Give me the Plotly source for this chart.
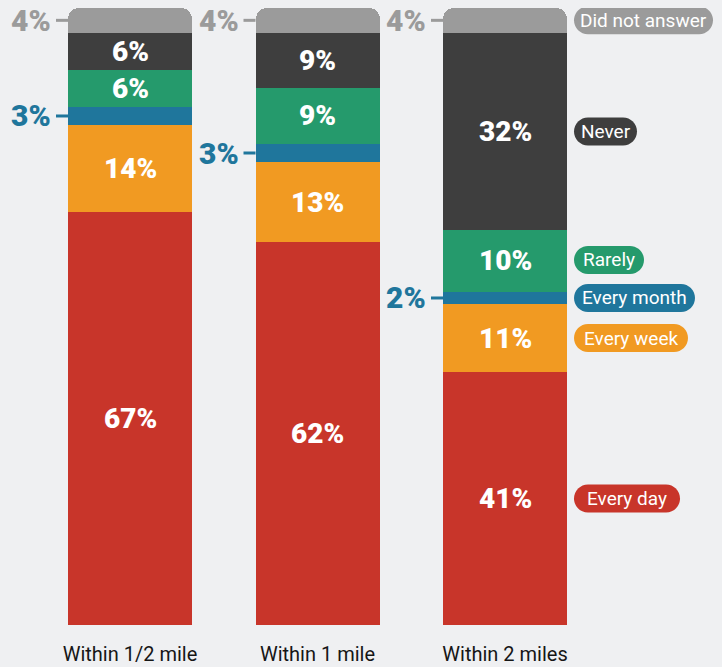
import plotly.graph_objects as go

# ---------------- data ----------------
categories = ["Within 1/2 mile", "Within 1 mile", "Within 2 miles"]
series_names = ["Every day", "Every week", "Every month", "Rarely", "Never", "Did not answer"]
every_day = [67, 62, 41]
every_week = [14, 13, 11]
every_month = [3, 3, 2]
rarely = [6, 9, 10]
never = [6, 9, 32]
did_not_answer = [4, 4, 4]

# ---------------- styles ----------------
series_values = [every_day, every_week, every_month, rarely, never, did_not_answer]
colors = ["#c8352a", "#f19a22", "#1f769c", "#259a6c", "#3e3e3e", "#9b9b9b"]
pill_widths_px = [106, 114, 121, 70, 63, 139]
BG = "#eff0f2"

W, H = 722, 667
M_T, M_B = 8, 42
X0_PX = 130.0          # pixel position of first category centre
PX_PER_X = 187.5       # pixels per category step
X_RANGE = [-X0_PX / PX_PER_X, (W - X0_PX) / PX_PER_X]
PX_PER_Y = (H - M_T - M_B) / 100.0
BAR_W = 124 / PX_PER_X

xs = list(range(len(categories)))

fig = go.Figure()
for name, vals, col in zip(series_names, series_values, colors):
    fig.add_trace(go.Bar(
        x=xs, y=vals, name=name, marker=dict(color=col, line=dict(width=0)),
        width=BAR_W, showlegend=False, hoverinfo="skip",
    ))

annotations = []
shapes = []

# value labels
for i, x in enumerate(xs):
    base = 0
    for vals, col in zip(series_values, colors):
        v = vals[i]
        mid = base + v / 2
        if v >= 5:
            annotations.append(dict(
                x=x, y=mid, xref="x", yref="y", text=f"{v}%", showarrow=False,
                font=dict(family="Roboto", size=28, color="white", weight=900),
                xanchor="center", yanchor="middle",
            ))
        else:
            left = x - BAR_W / 2
            annotations.append(dict(
                x=left - 15 / PX_PER_X, y=mid, xref="x", yref="y", text=f"{v}%",
                showarrow=False,
                font=dict(family="Roboto", size=30, color=col, weight=900),
                xanchor="right", yanchor="middle",
            ))
            shapes.append(dict(
                type="line", xref="x", yref="y",
                x0=left - 12 / PX_PER_X, x1=left, y0=mid, y1=mid,
                line=dict(color=col, width=3),
            ))
        base += v

# category pills beside the last bar
last = xs[-1]
centers = []
base = 0
for vals in series_values:
    centers.append(base + vals[last] / 2)
    base += vals[last]
min_gap = 38 / PX_PER_Y
for k in range(1, len(centers)):
    if centers[k] - centers[k - 1] < min_gap:
        centers[k] = centers[k - 1] + min_gap

pill_h = 28 / PX_PER_Y
k = 0.5523
pill_left = last + BAR_W / 2 + 7 / PX_PER_X
for name, col, cy, wpx in zip(series_names, colors, centers, pill_widths_px):
    x0 = pill_left
    x1 = pill_left + wpx / PX_PER_X
    rx = 14 / PX_PER_X
    ry = pill_h / 2
    yb, yt = cy - ry, cy + ry
    path = (
        f"M {x0 + rx},{yb} L {x1 - rx},{yb} "
        f"C {x1 - rx + k * rx},{yb} {x1},{cy - k * ry} {x1},{cy} "
        f"C {x1},{cy + k * ry} {x1 - rx + k * rx},{yt} {x1 - rx},{yt} "
        f"L {x0 + rx},{yt} "
        f"C {x0 + rx - k * rx},{yt} {x0},{cy + k * ry} {x0},{cy} "
        f"C {x0},{cy - k * ry} {x0 + rx - k * rx},{yb} {x0 + rx},{yb} Z"
    )
    shapes.append(dict(type="path", xref="x", yref="y", path=path,
                       fillcolor=col, line=dict(width=0), layer="above"))
    annotations.append(dict(
        x=(x0 + x1) / 2, y=cy, xref="x", yref="y", text=name, showarrow=False,
        font=dict(family="Roboto", size=19, color="white"),
        xanchor="center", yanchor="middle",
    ))

# baseline
shapes.append(dict(
    type="line", xref="x", yref="y",
    x0=xs[0] - 0.47, x1=xs[-1] + 0.44, y0=-0.25, y1=-0.25,
    line=dict(color="#a9b2ba", width=3), layer="below",
))

fig.update_layout(
    width=W, height=H,
    margin=dict(l=0, r=0, t=M_T, b=M_B, pad=0),
    paper_bgcolor=BG, plot_bgcolor=BG,
    barmode="stack", bargap=0, barcornerradius=11,
    annotations=annotations, shapes=shapes,
    xaxis=dict(range=X_RANGE, tickvals=xs, ticktext=categories, showgrid=False,
               zeroline=False, showline=False, ticks="", ticklabelstandoff=15,
               tickfont=dict(family="Roboto", size=20, color="#161616"),
               fixedrange=True),
    yaxis=dict(range=[0, 100], visible=False, fixedrange=True),
)

fig.write_html("out.html")
